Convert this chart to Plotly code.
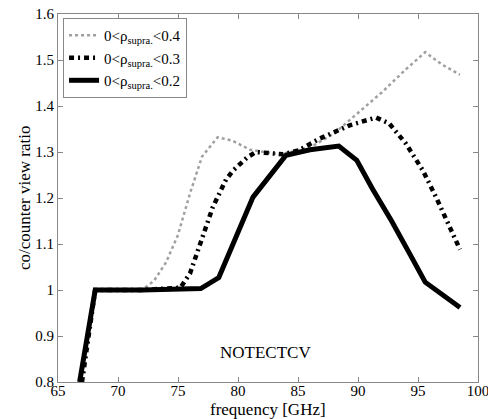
import plotly.graph_objects as go

# ---- data ----
x_04 = [66.9, 68.1, 70, 72, 73, 74, 75, 76, 77, 78.3, 79.5, 81, 83.5, 86, 88, 90, 92, 94, 95.6, 97, 98.5]
y_04 = [0.8, 1.0, 1.0, 1.0, 1.02, 1.06, 1.12, 1.21, 1.29, 1.332, 1.325, 1.305, 1.295, 1.31, 1.34, 1.384, 1.43, 1.48, 1.517, 1.49, 1.468]

x_03 = [67.0, 68.1, 72, 75.2, 76, 77, 77.9, 79, 79.6, 80.8, 81.5, 83.75, 85.1, 86.8, 89.3, 91.5, 92.6, 94.0, 95.4, 96.5, 97.5, 98.5]
y_03 = [0.8, 1.0, 1.0, 1.005, 1.036, 1.11, 1.18, 1.24, 1.26, 1.289, 1.3, 1.295, 1.304, 1.329, 1.358, 1.375, 1.362, 1.318, 1.26, 1.202, 1.144, 1.088]

x_02 = [66.8, 68.1, 72, 76.9, 78.4, 79.8, 81.25, 84.0, 86.0, 88.4, 89.9, 91.2, 92.8, 94.45, 95.6, 98.5]
y_02 = [0.8, 1.0, 1.0, 1.003, 1.027, 1.11, 1.202, 1.293, 1.305, 1.313, 1.282, 1.22, 1.15, 1.072, 1.017, 0.962]

names = ["0&lt;ρ<sub>supra.</sub>&lt;0.4", "0&lt;ρ<sub>supra.</sub>&lt;0.3", "0&lt;ρ<sub>supra.</sub>&lt;0.2"]

x_ticks = [65, 70, 75, 80, 85, 90, 95, 100]
y_ticks = [0.8, 0.9, 1.0, 1.1, 1.2, 1.3, 1.4, 1.5, 1.6]
y_tick_labels = ["0.8", "0.9", "1", "1.1", "1.2", "1.3", "1.4", "1.5", "1.6"]

FONT = "Liberation Serif"

fig = go.Figure()
fig.add_trace(go.Scatter(x=x_04, y=y_04, mode="lines", name=names[0],
                         line=dict(color="#a0a0a0", width=2.5, dash="dot")))
fig.add_trace(go.Scatter(x=x_03, y=y_03, mode="lines", name=names[1],
                         line=dict(color="black", width=4.5, dash="5px,4px,2px,4px")))
fig.add_trace(go.Scatter(x=x_02, y=y_02, mode="lines", name=names[2],
                         line=dict(color="black", width=5)))

axis_common = dict(showgrid=False, zeroline=False, showline=True, linecolor="#888888",
                   linewidth=1, mirror="ticks", ticks="inside", ticklen=5, tickcolor="#888888",
                   automargin=False, ticklabeloverflow="allow",
                   tickfont=dict(family=FONT, size=15, color="black"))

fig.update_xaxes(range=[65, 100], tickvals=x_ticks, ticklabelstandoff=-5, **axis_common)
fig.update_yaxes(range=[0.8, 1.6], tickvals=y_ticks, ticktext=y_tick_labels, **axis_common)

# axis titles
fig.add_annotation(xref="paper", yref="paper", x=0.5, y=-0.076, yanchor="middle",
                   text="frequency [GHz]", showarrow=False,
                   font=dict(family=FONT, size=17, color="black"))
fig.add_annotation(xref="paper", yref="paper", x=-0.081, y=0.5, xanchor="center",
                   text="co/counter view ratio", textangle=-90, showarrow=False,
                   font=dict(family=FONT, size=17, color="black"))

fig.add_annotation(x=82.3, y=0.865, text="NOTECTCV", showarrow=False,
                   font=dict(family=FONT, size=17, color="black"))

fig.update_layout(
    width=488, height=419,
    margin=dict(l=58, r=10, t=14, b=37),
    paper_bgcolor="white", plot_bgcolor="white",
    legend=dict(x=0.012, y=0.989, xanchor="left", yanchor="top",
                bgcolor="white", bordercolor="#888888", borderwidth=1,
                font=dict(family=FONT, size=15, color="black"),
                tracegroupgap=0, itemwidth=30),
    showlegend=True,
)

# remove the default 8px page margin so the figure fills the window exactly
fig.write_html("out.html", config={"displayModeBar": False},
               post_script="document.body.style.margin='0px';")
